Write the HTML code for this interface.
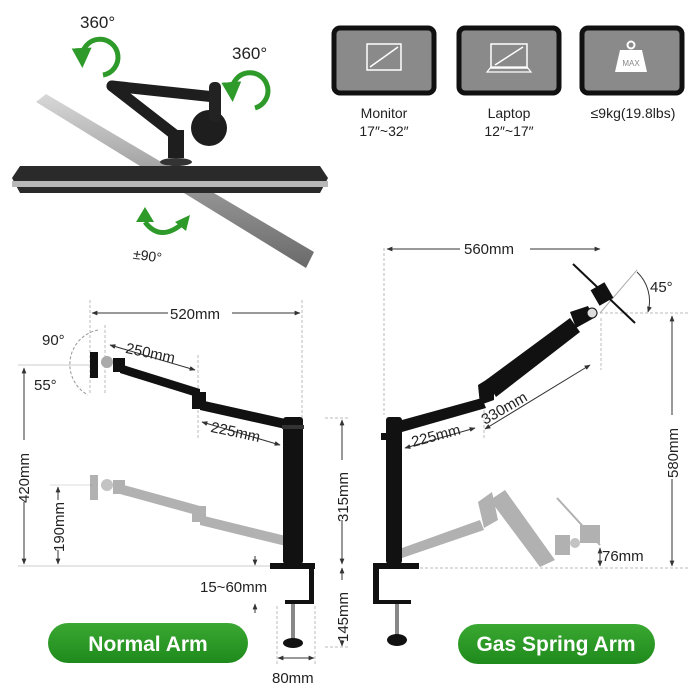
<!DOCTYPE html>
<html><head><meta charset="utf-8"><style>
html,body{margin:0;padding:0;background:#fff;}
svg{display:block;font-family:"Liberation Sans",sans-serif;}
</style></head><body>
<svg width="700" height="700" viewBox="0 0 700 700" xmlns="http://www.w3.org/2000/svg">
<defs>
<linearGradient id="silver" x1="0" y1="0" x2="0" y2="1"><stop offset="0" stop-color="#d8d8d8"/><stop offset="0.5" stop-color="#9a9a9a"/><stop offset="1" stop-color="#6a6a6a"/></linearGradient>
<linearGradient id="gp" x1="0" y1="0" x2="0" y2="1"><stop offset="0" stop-color="#3aa832"/><stop offset="1" stop-color="#1f8a1c"/></linearGradient>
<marker id="ar" viewBox="0 0 10 10" refX="9" refY="5" markerWidth="6" markerHeight="6" orient="auto-start-reverse"><path d="M0,1 L10,5 L0,9 z" fill="#333"/></marker>
<marker id="ga" viewBox="0 0 10 10" refX="5" refY="5" markerWidth="4" markerHeight="4" orient="auto"><path d="M0,0 L10,5 L0,10 z" fill="#2e9a2a"/></marker>
</defs>

<!-- top-left monitors -->
<polygon points="36,102 46,94 314,252 306,268" fill="url(#silver)"/>
<polygon points="12,178 20,166 320,166 328,178 320,193 20,193" fill="#2a2a2a"/>
<rect x="12" y="181" width="316" height="6" fill="#b8b8b8"/>
<!-- arm -->
<circle cx="209" cy="128" r="18" fill="#1e1e1e"/>
<line x1="112" y1="86" x2="215" y2="97" stroke="#1e1e1e" stroke-width="11" stroke-linecap="round"/>
<line x1="112" y1="86" x2="175" y2="135" stroke="#1e1e1e" stroke-width="11" stroke-linecap="round"/>
<rect x="209" y="82" width="12" height="40" rx="5" fill="#222"/>
<rect x="168" y="130" width="16" height="28" fill="#1e1e1e"/>
<ellipse cx="176" cy="162" rx="16" ry="4" fill="#333"/>
<!-- green arrows -->
<g fill="none" stroke="#2e9a2a" stroke-width="5">
<path d="M103,75 A18,18 0 1 0 82,58" marker-end="url(#ga)"/>
<path d="M255,108 A18,18 0 1 0 232,92" marker-end="url(#ga)"/>
<path d="M145,222 Q160,242 182,224" />
</g>
<polygon points="136,222 145,207 154,222" fill="#2e9a2a"/>
<polygon points="175,222 190,215 186,231" fill="#2e9a2a"/>
<text x="80" y="28" font-size="17" fill="#222">360°</text>
<text x="232" y="59" font-size="17" fill="#222">360°</text>
<text x="133" y="261" font-size="14" fill="#222" transform="rotate(8 150 256)">±90°</text>

<!-- icon boxes -->
<g>
<rect x="334" y="28" width="100" height="65" rx="6" fill="#8a8a8a" stroke="#111" stroke-width="5"/>
<rect x="367" y="44" width="34" height="26" fill="none" stroke="#fff" stroke-width="1.5"/>
<line x1="370" y1="67" x2="398" y2="47" stroke="#fff" stroke-width="1.5"/>
<rect x="459" y="28" width="100" height="65" rx="6" fill="#8a8a8a" stroke="#111" stroke-width="5"/>
<rect x="491" y="44" width="36" height="24" fill="none" stroke="#fff" stroke-width="1.5"/>
<path d="M487,72 L531,72 L527,67 L491,67 Z" fill="none" stroke="#fff" stroke-width="1.2"/>
<line x1="495" y1="65" x2="523" y2="47" stroke="#fff" stroke-width="1.5"/>
<rect x="582" y="28" width="100" height="65" rx="6" fill="#8a8a8a" stroke="#111" stroke-width="5"/>
<circle cx="631" cy="45" r="3.5" fill="none" stroke="#fff" stroke-width="2"/>
<path d="M620,50 L642,50 L647,72 L615,72 Z" fill="#fff"/>
<text x="631" y="66" font-size="8" fill="#888" text-anchor="middle">MAX</text>
</g>
<g font-size="14" fill="#222" text-anchor="middle">
<text x="384" y="118">Monitor</text><text x="384" y="136">17″~32″</text>
<text x="509" y="118">Laptop</text><text x="509" y="136">12″~17″</text>
<text x="633" y="118">≤9kg(19.8lbs)</text>
</g>

<!-- normal arm -->
<g stroke="#bbb" stroke-width="1" stroke-dasharray="3,2" fill="none">
<line x1="90" y1="300" x2="90" y2="395"/>
<line x1="302" y1="300" x2="302" y2="420"/>
<line x1="198" y1="355" x2="198" y2="440"/>
<line x1="105" y1="325" x2="105" y2="395"/>
</g>
<line x1="18" y1="566" x2="280" y2="566" stroke="#ccc"/>
<line x1="18" y1="365" x2="92" y2="365" stroke="#ccc"/>
<line x1="50" y1="485" x2="92" y2="485" stroke="#ddd"/>
<path d="M98,330 A35,35 0 0 0 88,395" fill="none" stroke="#999" stroke-dasharray="3,2"/>
<!-- faded arm -->
<g opacity="0.35">
<rect x="90" y="475" width="8" height="25" fill="#222"/>
<circle cx="107" cy="485" r="6" fill="#555"/>
<rect x="113" y="480" width="12" height="14" fill="#222"/>
<polygon points="120,484 200,506 200,516 120,494" fill="#222"/>
<rect x="192" y="506" width="14" height="16" fill="#222"/>
<polygon points="200,515 290,537 290,547 200,525" fill="#222"/>
</g>
<!-- dark arm -->
<rect x="90" y="352" width="8" height="26" fill="#111"/>
<circle cx="107" cy="362" r="6" fill="#aaa"/>
<rect x="113" y="358" width="12" height="14" fill="#111"/>
<polygon points="120,364 200,389 200,398 120,373" fill="#111"/>
<rect x="192" y="392" width="14" height="17" fill="#111"/>
<polygon points="200,400 290,420 290,430 200,410" fill="#111"/>
<rect x="283" y="417" width="20" height="147" rx="3" fill="#111"/>
<rect x="282" y="425" width="22" height="4" fill="#333"/>
<rect x="270" y="563" width="45" height="6" fill="#111"/>
<rect x="309" y="566" width="5" height="38" fill="#111"/>
<rect x="285" y="600" width="28" height="4" fill="#111"/>
<rect x="291" y="604" width="4" height="38" fill="#888"/>
<ellipse cx="293" cy="643" rx="10" ry="5" fill="#111"/>
<g stroke="#333" stroke-width="1" fill="none">
<line x1="92" y1="313" x2="300" y2="313" marker-start="url(#ar)" marker-end="url(#ar)"/>
<line x1="110" y1="345" x2="195" y2="370" marker-start="url(#ar)" marker-end="url(#ar)"/>
<line x1="202" y1="422" x2="280" y2="445" marker-start="url(#ar)" marker-end="url(#ar)"/>
<line x1="24" y1="368" x2="24" y2="564" marker-start="url(#ar)" marker-end="url(#ar)"/>
<line x1="58" y1="487" x2="58" y2="564" marker-start="url(#ar)" marker-end="url(#ar)"/>
<line x1="342" y1="420" x2="342" y2="564" marker-start="url(#ar)" marker-end="url(#ar)"/>
<line x1="342" y1="568" x2="342" y2="646" marker-start="url(#ar)" marker-end="url(#ar)"/>
<line x1="255" y1="556" x2="255" y2="565" marker-end="url(#ar)"/>
<line x1="255" y1="613" x2="255" y2="604" marker-end="url(#ar)"/>
<line x1="278" y1="658" x2="314" y2="658" marker-start="url(#ar)" marker-end="url(#ar)"/>
</g>
<g stroke="#bbb" stroke-dasharray="3,2"><line x1="277" y1="606" x2="277" y2="666"/><line x1="315" y1="606" x2="315" y2="666"/><line x1="325" y1="418" x2="350" y2="418"/><line x1="325" y1="647" x2="350" y2="647"/></g>
<rect x="168" y="304" width="64" height="18" fill="#fff"/>
<g font-size="15" fill="#222">
<text x="170" y="319">520mm</text>
<text x="125" y="358" transform="rotate(12 150 355)">250mm</text>
<text x="210" y="438" transform="rotate(12 240 435)">225mm</text>
<text x="42" y="345">90°</text>
<text x="34" y="390">55°</text>
<text x="200" y="592">15~60mm</text>
<text x="272" y="683">80mm</text>
<rect x="14" y="440" width="20" height="62" fill="#fff"/>
<text x="0" y="0" transform="translate(29,503) rotate(-90)">420mm</text>
<rect x="50" y="500" width="18" height="50" fill="#fff"/>
<text x="0" y="0" transform="translate(64,552) rotate(-90)">190mm</text>
<rect x="333" y="460" width="18" height="60" fill="#fff"/>
<text x="0" y="0" transform="translate(348,522) rotate(-90)">315mm</text>
<rect x="333" y="580" width="18" height="60" fill="#fff"/>
<text x="0" y="0" transform="translate(348,642) rotate(-90)">145mm</text>
</g>
<rect x="48" y="623" width="200" height="40" rx="20" fill="url(#gp)"/>
<text x="148" y="651" font-size="21" font-weight="bold" fill="#fff" text-anchor="middle">Normal Arm</text>

<!-- gas spring arm -->
<g stroke="#bbb" stroke-dasharray="3,2" fill="none">
<line x1="384" y1="248" x2="384" y2="415"/>
<line x1="601" y1="318" x2="601" y2="370"/>
<line x1="484" y1="410" x2="484" y2="440"/>
<line x1="595" y1="313" x2="690" y2="313"/>
<line x1="380" y1="568" x2="690" y2="568"/>
</g>
<line x1="600" y1="313" x2="637" y2="270" stroke="#aaa"/>
<!-- faded -->
<g opacity="0.35">
<polygon points="402,548 480,520 484,530 402,558" fill="#222"/>
<polygon points="478,502 492,492 498,520 484,528" fill="#222"/>
<polygon points="490,500 505,490 555,560 540,567" fill="#222"/>
<rect x="555" y="535" width="15" height="20" fill="#222"/>
<circle cx="575" cy="543" r="5" fill="#555"/>
<rect x="580" y="525" width="20" height="18" fill="#222"/>
<line x1="557" y1="498" x2="600" y2="545" stroke="#222" stroke-width="2"/>
</g>
<!-- dark -->
<polygon points="402,420 482,398 486,408 402,432" fill="#111"/>
<polygon points="478,385 494,375 494,400 480,405" fill="#111"/>
<polygon points="486,380 570,318 580,332 496,397" fill="#111"/>
<polygon points="570,312 588,306 594,318 576,328" fill="#111"/>
<circle cx="592" cy="313" r="5" fill="#ddd" stroke="#111"/>
<rect x="594" y="285" width="16" height="18" fill="#111" transform="rotate(-30 602 294)"/>
<line x1="573" y1="264" x2="635" y2="323" stroke="#111" stroke-width="2"/>
<rect x="386" y="417" width="16" height="147" rx="3" fill="#111"/>
<rect x="381" y="433" width="6" height="7" fill="#111"/>
<rect x="373" y="563" width="46" height="6" fill="#111"/>
<rect x="373" y="566" width="6" height="38" fill="#111"/>
<rect x="379" y="600" width="32" height="4" fill="#111"/>
<rect x="395" y="604" width="4" height="32" fill="#888"/>
<ellipse cx="397" cy="640" rx="10" ry="6" fill="#111"/>
<g stroke="#333" stroke-width="1" fill="none">
<line x1="387" y1="249" x2="600" y2="249" marker-start="url(#ar)" marker-end="url(#ar)"/>
<line x1="672" y1="316" x2="672" y2="566" marker-start="url(#ar)" marker-end="url(#ar)"/>
<line x1="485" y1="429" x2="590" y2="365" marker-start="url(#ar)" marker-end="url(#ar)"/>
<line x1="405" y1="448" x2="475" y2="428" marker-start="url(#ar)" marker-end="url(#ar)"/>
<line x1="600" y1="548" x2="600" y2="566" marker-start="url(#ar)" marker-end="url(#ar)"/>
<path d="M637,272 A40,40 0 0 1 648,312" marker-end="url(#ar)"/>
</g>
<g font-size="15" fill="#222">
<rect x="460" y="240" width="70" height="18" fill="#fff"/>
<text x="464" y="254">560mm</text>
<text x="650" y="292">45°</text>
<text x="602" y="561">76mm</text>
<text x="0" y="0" transform="translate(485,425) rotate(-30)">330mm</text>
<text x="0" y="0" transform="translate(413,447) rotate(-15)">225mm</text>
<rect x="663" y="415" width="18" height="64" fill="#fff"/>
<text x="0" y="0" transform="translate(678,478) rotate(-90)">580mm</text>
</g>
<rect x="458" y="624" width="197" height="40" rx="20" fill="url(#gp)"/>
<text x="556" y="651" font-size="21" font-weight="bold" fill="#fff" text-anchor="middle">Gas Spring Arm</text>
</svg>
</body></html>
